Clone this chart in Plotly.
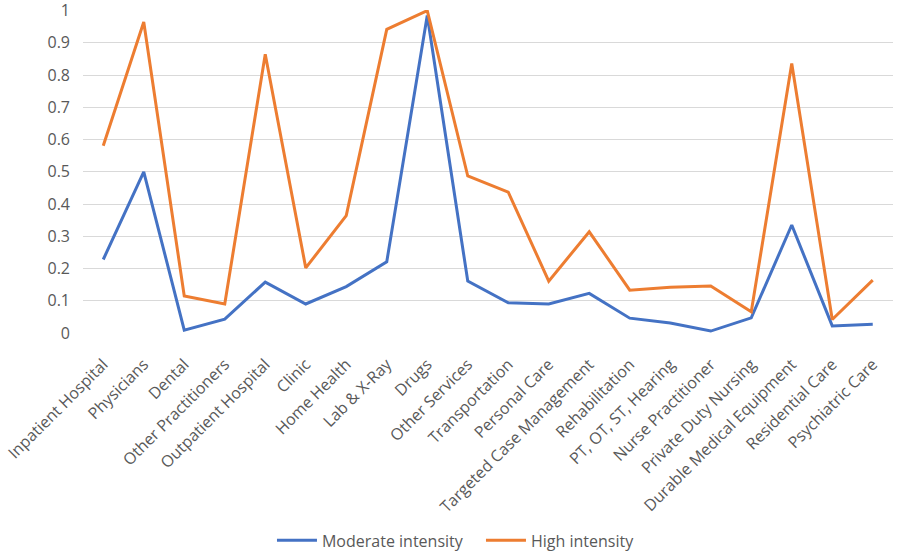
import plotly.graph_objects as go

categories = ["Inpatient Hospital", "Physicians", "Dental", "Other Practitioners",
              "Outpatient Hospital", "Clinic", "Home Health", "Lab & X-Ray", "Drugs",
              "Other Services", "Transportation", "Personal Care", "Targeted Case Management",
              "Rehabilitation", "PT, OT, ST, Hearing", "Nurse Practitioner",
              "Private Duty Nursing", "Durable Medical Equipment", "Residential Care",
              "Psychiatric Care"]
moderate = [0.228, 0.50, 0.009, 0.043, 0.158, 0.090, 0.144, 0.221, 0.985, 0.161,
            0.094, 0.090, 0.123, 0.046, 0.031, 0.006, 0.047, 0.335, 0.022, 0.027]
high = [0.581, 0.965, 0.115, 0.090, 0.865, 0.202, 0.364, 0.942, 1.0, 0.487,
        0.437, 0.161, 0.314, 0.133, 0.142, 0.146, 0.066, 0.836, 0.042, 0.164]
y_ticks = [0, 0.1, 0.2, 0.3, 0.4, 0.5, 0.6, 0.7, 0.8, 0.9, 1]
y_tick_labels = ["0", "0.1", "0.2", "0.3", "0.4", "0.5", "0.6", "0.7", "0.8", "0.9", "1"]

FONT = "Open Sans"
GRAY = "#595959"

fig = go.Figure()
fig.add_trace(go.Scatter(x=categories, y=moderate, mode="lines", name="Moderate intensity",
                         line=dict(color="#4472C4", width=3)))
fig.add_trace(go.Scatter(x=categories, y=high, mode="lines", name="High intensity",
                         line=dict(color="#ED7D31", width=3)))

fig.update_layout(
    width=900, height=552,
    margin=dict(l=83, r=7, t=10, b=219, autoexpand=False),
    paper_bgcolor="white", plot_bgcolor="white",
    font=dict(family=FONT, size=16, color=GRAY),
    showlegend=True,
    legend=dict(orientation="h", x=0.2333, xanchor="left", y=-0.642, yanchor="middle",
                font=dict(family=FONT, size=16, color=GRAY), itemwidth=40,
                entrywidth=154, traceorder="normal"),
    xaxis=dict(type="category", range=[-0.5, 19.5], tickangle=-45, showgrid=False,
               showline=False, zeroline=False, ticks="", ticklabelstandoff=18,
               tickfont=dict(size=16, color=GRAY)),
    yaxis=dict(range=[0, 1.002], tickvals=y_ticks, ticktext=y_tick_labels, showgrid=True,
               gridcolor="#d9d9d9", gridwidth=1, zeroline=False, showline=False, ticks="",
               ticklabelstandoff=12, ticklabeloverflow="allow",
               tickfont=dict(size=16, color=GRAY)),
)

fig.write_html("out.html", config={"displayModeBar": False},
               post_script="document.body.style.margin='0';document.body.style.overflow='hidden';")
